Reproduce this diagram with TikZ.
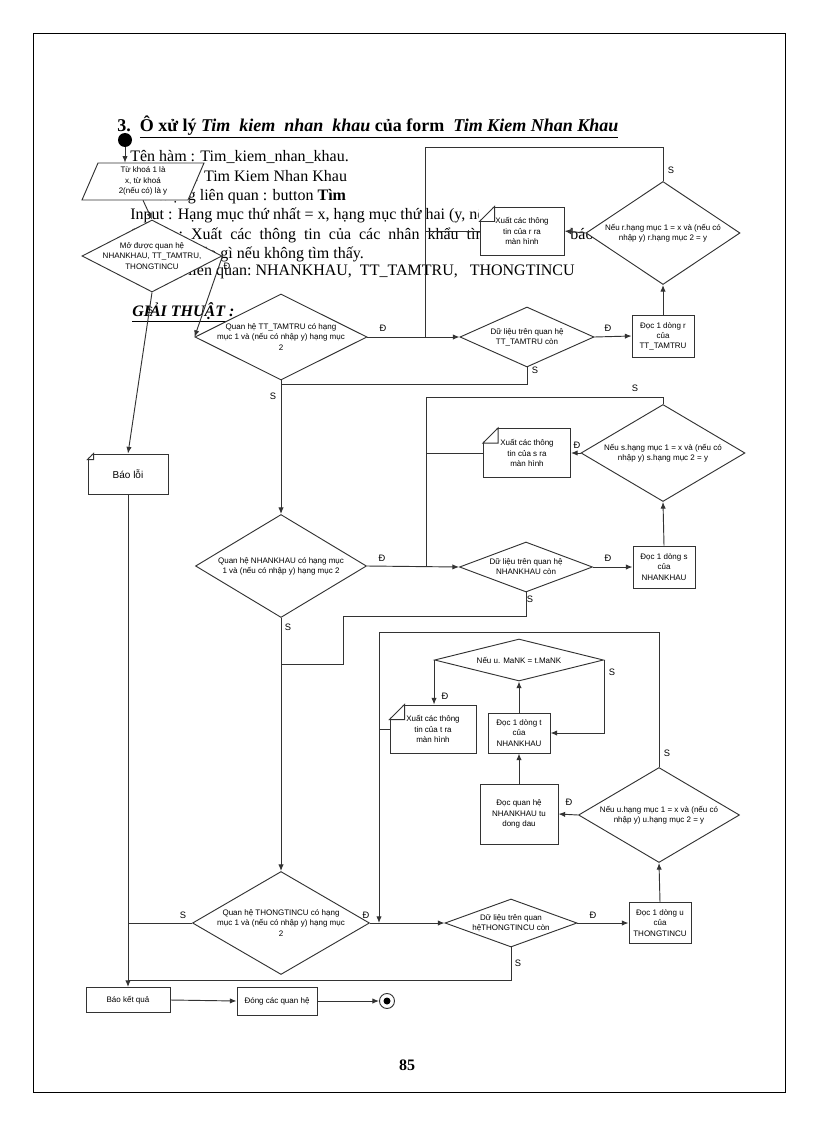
\documentclass[tikz,border=0pt]{standalone}
\usepackage{fontspec}
\setmainfont{Liberation Serif}
\newfontfamily\dsans{Liberation Sans}
\usetikzlibrary{shapes.geometric,arrows.meta}
\tikzset{
  ln/.style={draw=black!80,line width=0.7pt},
  arr/.style={ln,-{Latex[length=5pt,width=4pt]}},
  dt/.style={font=\dsans\fontsize{6}{7.6}\selectfont,align=center,inner sep=0},
  box/.style={ln,fill=white,rectangle,inner sep=1pt,font=\dsans\fontsize{6}{7.6}\selectfont,align=center},
  dia/.style={ln,fill=white,diamond,inner sep=0},
  lab/.style={font=\dsans\fontsize{7}{8}\selectfont,inner sep=0},
  body/.style={anchor=west,font=\fontsize{12}{14}\selectfont,inner sep=0}
}
\newcommand\dianode[6]{\node[dia,minimum width=#4*0.75pt,minimum height=#5*0.75pt] (#1) at (#2,#3) {};
  \node[dt] at (#1) {#6};}
\newcommand\boxnode[6]{\node[box,minimum width=#4*0.75pt,minimum height=#5*0.75pt] (#1) at (#2,#3) {#6};}
\newcommand\docnode[7]{\node[box,minimum width=#4*0.75pt,minimum height=#5*0.75pt] (#1) at (#2,#3) {#6};
  \fill[white] ([shift={(-1,-1)}]#1.north west) -- ++(#7+1,0) -- ++(-#7-1,#7+1) -- cycle;
  \draw[ln] ([yshift=-#7*0.75pt]#1.north west) -- ++(#7,-#7) -- ++(0,#7) -- cycle;}
\begin{document}
\begin{tikzpicture}[x=0.75pt,y=-0.75pt]
\useasboundingbox (0,0) rectangle (816,1123);
\draw[line width=0.6pt] (33,33) rectangle (785,1092);
% body text
\node[body,font=\fontsize{13.5}{15}\selectfont] (title) at (117,127) {\textbf{3.}\enspace\underline{\textbf{Ô xử lý \textit{Tim\ \ kiem\ \ nhan\ \ khau} của form\ \ \textit{Tim Kiem Nhan Khau}}}};
\node[body] (l1) at (130,157) {Tên hàm : Tim\_kiem\_nhan\_khau.};
\node[body] (l2) at (130,176) {Tên form : Tim Kiem Nhan Khau};
\node[body] (l3) at (130,196) {Đối tượng liên quan\ : button \textbf{Tìm}};
\node[body] (l4) at (130,215) {Input\ : Hạng\ mục\ thứ\ nhất = x,\ hạng\ mục\ thứ\ hai\ (y, nếu không có)};
\node[body] (l5) at (130,235) {Output :\ \ Xuất\ \ các\ \ thông\ \ tin\ \ của\ \ các\ \ nhân\ \ khẩu\ \ tìm được\ \ hoặc\ \ báo};
\node[body] (l6) at (130,254) {và không báo gì nếu không tìm thấy.};
\node[body] (l7) at (130,272) {Quan hệ liên quan:\ NHANKHAU,\ \ TT\_TAMTRU,\ \ \ THONGTINCU};
\node[body] (gt) at (132,312) {\underline{\textbf{\textit{GIẢI THUẬT :}}}};
\node[font=\fontsize{12}{14}\selectfont\bfseries] (pg) at (407,1065) {85};
% start
\node[circle,fill=black,minimum size=14*0.75pt,inner sep=0] (start) at (125,140) {};
\node[minimum width=106*0.75pt,minimum height=37*0.75pt,inner sep=0] (p) at (143,181.5) {};
\filldraw[ln,fill=white] (98,163) -- (204,163) -- (188,200) -- (82,200) -- cycle;
\node[dt] at (143,181) {Từ khoá 1 là\\x, từ khoá\\2(nếu có) là y};
\dianode{mo}{152}{256}{140}{72}{Mở được quan hệ\\NHANKHAU, TT\_TAMTRU,\\THONGTINCU}
\docnode{baoloi}{128}{474}{80}{40}{\fontsize{7.5}{9}\selectfont Báo lỗi}{6}
\boxnode{baokq}{128}{1000}{84}{25}{Báo kết quả}
\boxnode{dong}{277}{1001}{80}{28}{Đóng các quan hệ}
\node[circle,ln,fill=white,minimum size=15*0.75pt,inner sep=0] (end) at (387,1001) {};
\fill (end) circle (3.5*0.75pt);
% TT_TAMTRU block
\dianode{tt}{281}{337}{172}{86}{Quan hệ TT\_TAMTRU có hạng\\mục 1 và (nếu có nhập y) hạng mục\\2}
\dianode{dl1}{527}{337}{134}{60}{Dữ liệu trên quan hệ\\TT\_TAMTRU còn}
\boxnode{r1}{663}{336}{62}{42}{Đọc 1 dòng r\\của\\TT\_TAMTRU}
\dianode{rd}{663}{233}{154}{103}{Nếu r.hạng mục 1 = x và (nếu có\\nhập y) r.hạng mục 2 = y}
\docnode{docr}{522}{231}{84}{48}{Xuất các thông\\tin của r ra\\màn hình}{15}
% NHANKHAU block
\dianode{nk}{281}{566}{171}{103}{Quan hệ NHANKHAU có hạng mục\\1 và (nếu có nhập y) hạng mục 2}
\dianode{dl2}{526}{567}{133}{50}{Dữ liệu trên quan hệ\\NHANKHAU còn}
\boxnode{s1}{664}{567}{62}{42}{Đọc 1 dòng s\\của\\NHANKHAU}
\dianode{sd}{663}{453}{164}{97}{Nếu s.hạng mục 1 = x và (nếu có\\nhập y) s.hạng mục 2 = y}
\docnode{docs}{527}{453}{87}{49}{Xuất các thông\\tin của s ra\\màn hình}{15}
% THONGTINCU block
\dianode{tc}{281}{923}{177}{103}{Quan hệ THONGTINCU có hạng\\mục 1 và (nếu có nhập y) hạng mục\\2}
\dianode{dl3}{511}{923}{132}{48}{Dữ liệu trên quan\\hệTHONGTINCU còn}
\boxnode{u1}{660}{923}{62}{41}{Đọc 1 dòng u\\của\\THONGTINCU}
\dianode{ud}{659}{815}{161}{95}{Nếu u.hạng mục 1 = x và (nếu có\\nhập y) u.hạng mục 2 = y}
\boxnode{nq}{519}{814}{78}{60}{Đọc quan hệ\\NHANKHAU tu\\dong dau}
\boxnode{t1}{519}{733}{62}{40}{Đọc 1 dòng t\\của\\NHANKHAU}
\dianode{mk}{519}{660}{169}{42}{Nếu u. MaNK = t.MaNK}
\docnode{doct}{433}{729}{86}{48}{Xuất các thông\\tin của t ra\\màn hình}{15}
% coordinates
\coordinate (c1) at (425,147);
\coordinate (j1) at (281,384);
\coordinate (c2) at (426,397);
\coordinate (j2) at (343,616);
\coordinate (j2b) at (281,664);
\coordinate (c3) at (379,632);
\coordinate (j3) at (128,980);
% connectors
\draw[arr] (start.south) -- (start.south |- p.north);
\draw[arr] (p.south) -- (mo.north);
\draw[arr] (mo.east) -- (tt.west);
\draw[arr] (mo.south) -- (baoloi.north);
\draw[arr] (baoloi.south) -- (baokq.north);
\draw[arr] (baokq.east) -- (dong.west);
\draw[arr] (dong.east) -- (end.west);
\draw[arr] (tt.east) -- (dl1.west);
\draw[arr] (dl1.east) -- (r1.west);
\draw[arr] (r1.north) -- (rd.south);
\draw[arr] (rd.west) -- (docr.east);
\draw[ln] (rd.north) |- (c1) -- (c1 |- tt.east);
\draw[ln] (docr.west) -- (c1 |- docr.west);
\draw[ln] (dl1.south) |- (j1);
\draw[arr] (tt.south) -- (nk.north);
\draw[arr] (nk.east) -- (dl2.west);
\draw[arr] (dl2.east) -- (s1.west);
\draw[arr] (s1.north) -- (sd.south);
\draw[arr] (sd.west) -- (docs.east);
\draw[ln] (sd.north) |- (c2) -- (c2 |- nk.east);
\draw[ln] (docs.west) -- (c2 |- docs.west);
\draw[ln] (dl2.south) |- (j2) -- (j2 |- j2b) -- (j2b);
\draw[arr] (nk.south) -- (tc.north);
\draw[arr] (tc.east) -- (dl3.west);
\draw[arr] (dl3.east) -- (u1.west);
\draw[arr] (u1.north) -- (ud.south);
\draw[arr] (ud.west) -- (nq.east);
\draw[arr] (nq.north) -- (t1.south);
\draw[arr] (t1.north) -- (mk.south);
\draw[arr] (mk.west) -- (mk.west |- doct.north);
\draw[arr] (mk.east) |- (t1.east);
\draw[ln] (ud.north) |- (c3);
\draw[arr] (c3) -- (c3 |- tc.east);
\draw[ln] (doct.west) -- (c3 |- doct.west);
\draw[ln] (tc.west) -- (baoloi.south |- tc.west);
\draw[ln] (dl3.south) |- (j3);
% labels
\node[lab] at (227,266) {Đ};
\node[lab] at (150,310) {S};
\node[lab] at (383,328) {Đ};
\node[lab] at (608,328) {Đ};
\node[lab] at (671,170) {S};
\node[lab] at (535,370) {S};
\node[lab] at (273,396) {S};
\node[lab] at (382,558) {Đ};
\node[lab] at (608,558) {Đ};
\node[lab] at (635,388) {S};
\node[lab] at (577,445) {Đ};
\node[lab] at (530,599) {S};
\node[lab] at (288,627) {S};
\node[lab] at (183,915) {S};
\node[lab] at (366,915) {Đ};
\node[lab] at (593,915) {Đ};
\node[lab] at (518,963) {S};
\node[lab] at (667,753) {S};
\node[lab] at (569,802) {Đ};
\node[lab] at (445,696) {Đ};
\node[lab] at (612,672) {S};
\end{tikzpicture}
\end{document}
